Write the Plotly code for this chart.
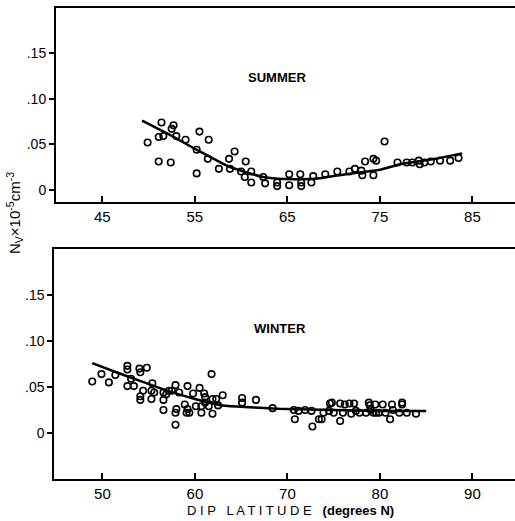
import plotly.graph_objects as go

# ---- Summer data ----
summer_lat = [49.9, 51.1, 51.1, 51.4, 51.6, 52.4, 52.5, 52.7, 53.0, 54.0, 55.2, 55.2, 55.5, 56.4, 56.5,
              57.6, 58.7, 58.8, 59.3, 60.0, 60.4, 60.5, 61.1, 61.1, 62.4, 62.6, 63.9, 63.9, 65.2, 65.2,
              66.4, 66.5, 66.5, 67.6, 67.8, 69.1, 70.4, 71.7, 72.3, 73.0, 73.1, 73.4, 74.3, 74.3, 74.6,
              75.5, 76.9, 77.9, 78.5, 79.2, 79.3, 79.8, 80.5, 81.5, 82.6, 83.5]
summer_nv = [0.052, 0.031, 0.058, 0.074, 0.059, 0.030, 0.067, 0.071, 0.059, 0.055, 0.044, 0.018, 0.064, 0.034, 0.055,
             0.023, 0.034, 0.023, 0.042, 0.020, 0.014, 0.031, 0.020, 0.008, 0.014, 0.007, 0.008, 0.004, 0.017, 0.005,
             0.017, 0.008, 0.004, 0.008, 0.015, 0.017, 0.020, 0.020, 0.023, 0.021, 0.016, 0.031, 0.034, 0.016, 0.032,
             0.053, 0.030, 0.030, 0.030, 0.032, 0.028, 0.030, 0.031, 0.032, 0.032, 0.035]
summer_fit_lat = [49.3, 52.0, 55.2, 58.8, 62.4, 64.0, 68.0, 70.0, 72.0, 75.0, 77.2, 81.0, 83.9]
summer_fit_nv = [0.076, 0.062, 0.044, 0.025, 0.014, 0.012, 0.012, 0.015, 0.018, 0.022, 0.028, 0.034, 0.040]

# ---- Winter data ----
winter_lat = [48.9, 49.9, 50.7, 51.4, 52.7, 52.7, 52.7, 53.1, 53.4, 54.0, 54.1, 54.1, 54.1, 54.4, 54.8,
              55.3, 55.4, 55.3, 55.6, 56.6, 56.6, 56.6, 56.9, 57.2, 57.5, 57.9, 57.9, 58.0, 57.9, 58.3,
              58.9, 59.1, 59.4, 59.2, 59.2, 59.8, 60.1, 60.5, 60.7, 60.7, 61.0, 61.1, 61.1, 61.5, 61.8,
              61.9, 61.9, 62.3, 62.5, 63.0, 65.1, 65.1, 66.6, 68.4, 70.7, 70.8, 71.2, 71.9, 72.6, 72.7,
              73.4, 73.7, 73.9, 74.5, 74.6, 74.8, 75.0, 75.7, 75.7, 76.0, 76.2, 76.7, 76.9, 77.2, 77.4,
              77.8, 78.5, 78.8, 78.9, 79.0, 79.3, 79.5, 79.6, 79.9, 80.3, 80.6, 81.1, 81.3, 81.4, 82.1,
              82.4, 82.4, 82.9, 83.9]
winter_nv = [0.056, 0.064, 0.055, 0.063, 0.073, 0.069, 0.051, 0.059, 0.051, 0.070, 0.066, 0.040, 0.036, 0.046, 0.071,
             0.046, 0.054, 0.037, 0.044, 0.044, 0.036, 0.025, 0.042, 0.046, 0.046, 0.052, 0.022, 0.026, 0.009, 0.044,
             0.031, 0.022, 0.022, 0.051, 0.026, 0.043, 0.029, 0.049, 0.022, 0.029, 0.043, 0.039, 0.033, 0.029, 0.064,
             0.021, 0.037, 0.037, 0.030, 0.041, 0.038, 0.033, 0.036, 0.027, 0.025, 0.015, 0.024, 0.025, 0.024, 0.007,
             0.015, 0.015, 0.022, 0.024, 0.032, 0.033, 0.022, 0.013, 0.032, 0.022, 0.031, 0.032, 0.021, 0.032, 0.024,
             0.022, 0.022, 0.033, 0.030, 0.025, 0.022, 0.031, 0.022, 0.022, 0.031, 0.022, 0.015, 0.031, 0.025, 0.022,
             0.033, 0.031, 0.022, 0.021]
winter_fit_lat = [48.9, 51.5, 54.0, 57.0, 60.0, 63.0, 66.0, 70.0, 75.0, 80.0, 85.0]
winter_fit_nv = [0.076, 0.066, 0.057, 0.046, 0.037, 0.030, 0.028, 0.026, 0.025, 0.024, 0.024]

y_tickvals = [0, 0.05, 0.10, 0.15]
y_ticktext = ["0", ".05", ".10", ".15"]
summer_xticks = [45, 55, 65, 75, 85]
winter_xticks = [50, 60, 70, 80, 90]

W, H = 515, 521
FONT = "Liberation Sans, Arial, sans-serif"

fig = go.Figure()
marker = dict(symbol="circle-open", size=6.5, color="black", line=dict(width=1.6, color="black"))

fig.add_trace(go.Scatter(x=summer_lat, y=summer_nv, mode="markers", marker=marker,
                         xaxis="x", yaxis="y", showlegend=False))
fig.add_trace(go.Scatter(x=summer_fit_lat, y=summer_fit_nv, mode="lines",
                         line=dict(color="black", width=2.5, shape="spline", smoothing=0.6),
                         xaxis="x", yaxis="y", showlegend=False))
fig.add_trace(go.Scatter(x=winter_lat, y=winter_nv, mode="markers", marker=marker,
                         xaxis="x2", yaxis="y2", showlegend=False))
fig.add_trace(go.Scatter(x=winter_fit_lat, y=winter_fit_nv, mode="lines",
                         line=dict(color="black", width=2.5, shape="spline", smoothing=0.6),
                         xaxis="x2", yaxis="y2", showlegend=False))

def xax(domain, rng, ticks, anchor):
    return dict(domain=domain, range=rng, tickvals=ticks, ticktext=[str(t) for t in ticks],
                ticks="inside", ticklen=6, tickwidth=2, tickcolor="black",
                showline=True, linecolor="black", linewidth=2, mirror=True,
                showgrid=False, zeroline=False, anchor=anchor,
                tickfont=dict(family=FONT, size=15, color="black"))

def yax(domain, rng, anchor):
    return dict(domain=domain, range=rng, tickvals=y_tickvals, ticktext=y_ticktext,
                ticks="outside", ticklen=5, tickwidth=2, tickcolor="black",
                showline=True, linecolor="black", linewidth=2, mirror=False,
                showgrid=False, zeroline=False, anchor=anchor,
                tickfont=dict(family=FONT, size=14, color="black"))

def ann(text, x, y, size=13, angle=0):
    return dict(text=text, x=x / W, y=1 - y / H, xref="paper", yref="paper",
                xanchor="center", yanchor="middle", showarrow=False, textangle=angle,
                font=dict(family=FONT, size=size, color="black"))

fig.update_layout(
    width=W, height=H,
    margin=dict(l=0, r=0, t=0, b=0),
    paper_bgcolor="white", plot_bgcolor="white",
    xaxis=xax([56 / W, 1], [40.0, 89.6], summer_xticks, "y"),
    yaxis=yax([1 - 202 / H, 1 - 8 / H], [-0.0135, 0.2], "x"),
    xaxis2=xax([54.3 / W, 1], [44.8, 94.6], winter_xticks, "y2"),
    yaxis2=yax([1 - 479 / H, 1 - 249 / H], [-0.05, 0.2], "x2"),
    annotations=[
        ann("<b>SUMMER</b>", 277, 77),
        ann("<b>WINTER</b>", 280, 328),
        ann("D I P   L A T I T U D E   <b>(degrees N)</b>", 290, 510, size=13),
        ann("N<sub>V</sub>×10<sup>-5</sup>cm<sup>-3</sup>", 14, 213, size=15, angle=-90),
    ],
)

fig.write_html("out.html")
